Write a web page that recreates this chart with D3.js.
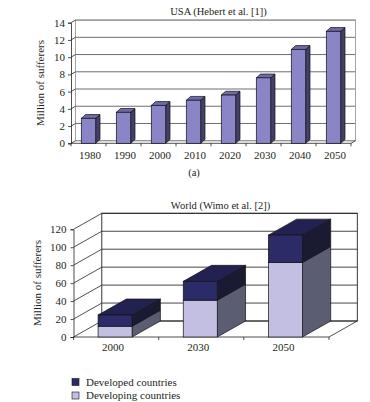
<!DOCTYPE html>
<html><head><meta charset="utf-8">
<script src="https://cdn.jsdelivr.net/npm/d3@7"></script>
<style>
html,body{margin:0;padding:0;background:#fff;}
svg{display:block;}
text{font-family:"Liberation Serif","DejaVu Serif",serif;fill:#231f20;}
</style></head><body>
<script>
// ---- Data ----
const usaYears = ["1980","1990","2000","2010","2020","2030","2040","2050"];
const usaValues = [2.9, 3.6, 4.4, 5.0, 5.6, 7.6, 10.9, 13.0];
const usaTicks = [0,2,4,6,8,10,12,14];

const worldYears = ["2000","2030","2050"];
const worldDeveloping = [12, 41, 83];
const worldDeveloped = [12.5, 21, 30.5];
const worldTicks = [0,20,40,60,80,100,120];
const seriesNames = ["Developed countries","Developing countries"];

const svg = d3.select("body").append("svg").attr("width",370).attr("height",402);

function poly(g, pts, fill, stroke, sw){
  g.append("polygon").attr("points", pts.map(p=>p.join(",")).join(" "))
    .attr("fill",fill).attr("stroke",stroke).attr("stroke-width",sw).attr("stroke-linejoin","round");
}

function drawFrame(g, x, y, ticks, maxV, dx, dy, gridColor, wallColor, tickLen){
  const [x0,x1] = x.range();
  ticks.forEach(t=>{
    g.append("line").attr("x1",x0+dx).attr("x2",x1+dx).attr("y1",y(t)+dy).attr("y2",y(t)+dy)
      .attr("stroke",gridColor).attr("stroke-width",0.9);
  });
  g.append("rect").attr("x",x0+dx).attr("y",y(maxV)+dy).attr("width",x1-x0).attr("height",y(0)-y(maxV))
    .attr("fill","none").attr("stroke",wallColor).attr("stroke-width",0.9);
  ticks.forEach(t=>{
    g.append("line").attr("x1",x0).attr("x2",x0+dx).attr("y1",y(t)).attr("y2",y(t)+dy)
      .attr("stroke","#222").attr("stroke-width",0.8);
  });
  g.append("line").attr("x1",x1).attr("x2",x1+dx).attr("y1",y(0)).attr("y2",y(0)+dy)
    .attr("stroke","#222").attr("stroke-width",0.8);
  const ya = d3.axisLeft(y).tickValues(ticks).tickSize(tickLen).tickFormat(d3.format("d"));
  const ay = g.append("g").attr("transform",`translate(${x0},0)`).call(ya);
  ay.attr("font-family",null).attr("font-size",null);
  ay.select(".domain").attr("stroke","#222").attr("stroke-width",0.8);
  ay.selectAll(".tick line").attr("stroke","#222").attr("stroke-width",0.8);
  ay.selectAll("text").attr("font-size","11px").attr("fill","#231f20");
  g.append("line").attr("x1",x0).attr("x2",x1).attr("y1",y(0)).attr("y2",y(0))
    .attr("stroke","#222").attr("stroke-width",0.8);
  const bounds = d3.range(x.domain().length+1).map(i=>x0+i*x.step());
  bounds.forEach(b=>{
    g.append("line").attr("x1",b).attr("x2",b).attr("y1",y(0)).attr("y2",y(0)+tickLen)
      .attr("stroke","#222").attr("stroke-width",0.8);
  });
  return ay;
}

// ---------- Chart (a): USA ----------
{
  const g = svg.append("g");
  const x = d3.scaleBand().domain(usaYears).range([71,351]).padding(0);
  const y = d3.scaleLinear().domain([0,14]).range([143.3,22.7]);
  const wdx=4.5, wdy=-2.6;
  const ay = drawFrame(g, x, y, usaTicks, 14, wdx, wdy, "#5e5e5e", "#9a9a9a", 3);
  ay.selectAll("text").attr("x",-6);
  const bw = 14.4, bdx=4.3, bdy=-3.8;
  usaYears.forEach((yr,i)=>{
    const cx = x(yr)+x.bandwidth()/2;
    const l = cx-bw/2, r = cx+bw/2, t = y(usaValues[i]), b = y(0);
    poly(g, [[r,b],[r+bdx,b+bdy],[r+bdx,t+bdy],[r,t]], "#423f68", "#111", 0.7);
    poly(g, [[l,t],[l+bdx,t+bdy],[r+bdx,t+bdy],[r,t]], "#6f6aab", "#111", 0.7);
    g.append("rect").attr("x",l).attr("y",t).attr("width",bw).attr("height",b-t)
      .attr("fill","#8a85c6").attr("stroke","#111").attr("stroke-width",0.7);
  });
  g.selectAll(".xl").data(usaYears).join("text").attr("class","xl")
    .attr("x",d=>x(d)+x.bandwidth()/2+1.5).attr("y",158.5).attr("text-anchor","middle")
    .attr("font-size","11px").text(d=>d);
  g.append("text").attr("x",218.5).attr("y",15).attr("text-anchor","middle").attr("font-size","10.5px")
    .text("USA (Hebert et al. [1])");
  g.append("text").attr("transform","translate(44,83) rotate(-90)").attr("text-anchor","middle")
    .attr("font-size","11px").text("Million of sufferers");
  g.append("text").attr("x",194).attr("y",175.5).attr("text-anchor","middle").attr("font-size","10.5px").text("(a)");
}

// ---------- Chart (b): World ----------
{
  const g = svg.append("g");
  const x = d3.scaleBand().domain(worldYears).range([73.5,329]).padding(0);
  const y = d3.scaleLinear().domain([0,120]).range([337,229.3]);
  const dx=28.3, dy=-16;
  const ay = drawFrame(g, x, y, worldTicks, 120, dx, dy, "#333", "#222", 3);
  ay.selectAll("text").attr("x",-7);
  const bw = 34;
  worldYears.forEach((yr,i)=>{
    const cx = x(yr)+x.bandwidth()/2-1;
    const l = cx-bw/2, r = cx+bw/2;
    const b = y(0), m = y(worldDeveloping[i]), t = y(worldDeveloping[i]+worldDeveloped[i]);
    poly(g, [[r,b],[r+dx,b+dy],[r+dx,m+dy],[r,m]], "#5b5d72", "#111", 0.7);
    g.append("rect").attr("x",l).attr("y",m).attr("width",bw).attr("height",b-m)
      .attr("fill","#c2bfe2").attr("stroke","#111").attr("stroke-width",0.7);
    poly(g, [[r,m],[r+dx,m+dy],[r+dx,t+dy],[r,t]], "#1a1a33", "#111", 0.7);
    poly(g, [[l,t],[l+dx,t+dy],[r+dx,t+dy],[r,t]], "#222252", "#111", 0.7);
    g.append("rect").attr("x",l).attr("y",t).attr("width",bw).attr("height",m-t)
      .attr("fill","#2b2b68").attr("stroke","#111").attr("stroke-width",0.7);
  });
  g.selectAll(".xl").data(worldYears).join("text").attr("class","xl")
    .attr("x",d=>x(d)+x.bandwidth()/2-3).attr("y",350.5).attr("text-anchor","middle")
    .attr("font-size","11px").text(d=>d);
  g.append("text").attr("x",220.5).attr("y",208.5).attr("text-anchor","middle").attr("font-size","10.5px")
    .text("World (Wimo et al. [2])");
  g.append("text").attr("transform","translate(41,283) rotate(-90)").attr("text-anchor","middle")
    .attr("font-size","11px").text("Million of sufferers");
  const lg = g.append("g");
  const cols = ["#2b2b68","#c2bfe2"];
  seriesNames.forEach((n,i)=>{
    lg.append("rect").attr("x",72).attr("y",378.5+i*13.5).attr("width",7).attr("height",7)
      .attr("fill",cols[i]).attr("stroke","#111").attr("stroke-width",0.6);
    lg.append("text").attr("x",86).attr("y",385.5+i*13.5).attr("font-size","11px").text(n);
  });
}
</script>
</body></html>
